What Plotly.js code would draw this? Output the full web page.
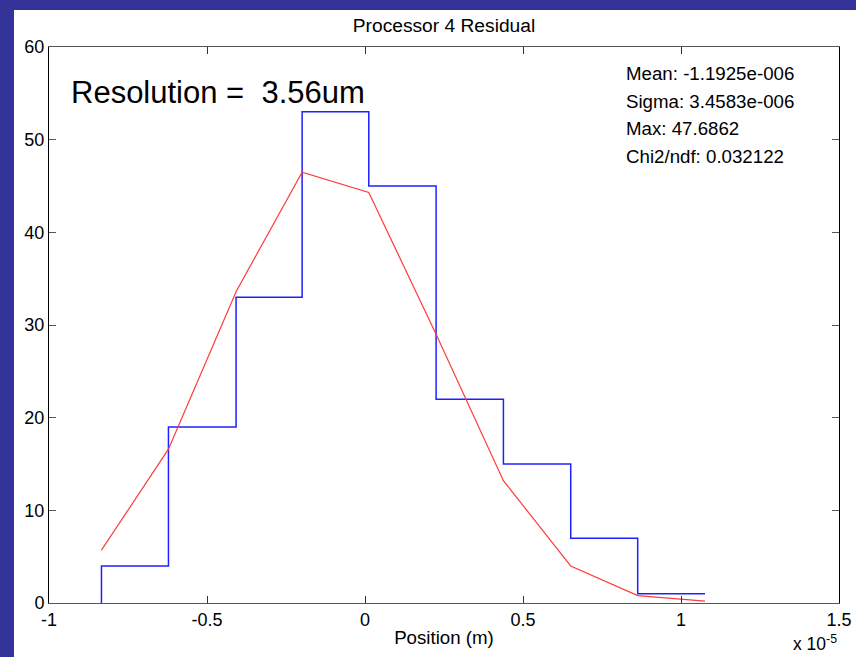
<!DOCTYPE html>
<html>
<head>
<meta charset="utf-8">
<script src="https://cdn.plot.ly/plotly-3.0.1.min.js"></script>
<style>
  html, body { margin: 0; padding: 0; background: #333399; width: 856px; height: 657px; overflow: hidden; }
  #chart { position: absolute; left: 14px; top: 10px; width: 842px; height: 647px; background: #ffffff; }
</style>
</head>
<body>
<div id="chart"></div>
<script>
// Histogram bin edges (units of 1e-5 m)
const binEdges = [-0.834, -0.622, -0.408, -0.199, 0.012, 0.225, 0.438, 0.651, 0.863, 1.076];
// Histogram counts (first value 0 is the baseline before the first bin)
const counts = [0, 4, 19, 33, 53, 45, 22, 15, 7, 1];
// Gaussian fit evaluated at the bin edges
const fitValues = [5.7, 16.6, 33.6, 46.5, 44.3, 29.0, 13.2, 4.0, 0.8, 0.2];

const xTicks = [-1, -0.5, 0, 0.5, 1, 1.5];
const xTickLabels = ['-1', '-0.5', '0', '0.5', '1', '1.5'];
const yTicks = [0, 10, 20, 30, 40, 50, 60];
const yTickLabels = ['0', '10', '20', '30', '40', '50', '60'];

const statLines = ['Mean: -1.1925e-006', 'Sigma: 3.4583e-006', 'Max: 47.6862', 'Chi2/ndf: 0.032122'];

const FONT = 'Liberation Sans, Arial, Helvetica, sans-serif';

const traces = [
  {
    x: binEdges, y: counts, type: 'scatter', mode: 'lines',
    line: { shape: 'vh', color: '#2020ff', width: 1.5 },
    hoverinfo: 'skip', showlegend: false
  },
  {
    x: binEdges, y: fitValues, type: 'scatter', mode: 'lines',
    line: { color: '#ff3b3b', width: 1.2 },
    hoverinfo: 'skip', showlegend: false
  }
];

const statY = [0.9532, 0.9011, 0.8534, 0.8031];
const annotations = statLines.map((t, i) => ({
  text: t, xref: 'paper', yref: 'paper', x: 0.7275, y: statY[i],
  xanchor: 'left', yanchor: 'middle', showarrow: false,
  font: { family: FONT, size: 18.7, color: '#000' }
}));
annotations.push({
  text: 'Resolution =  3.56um', xref: 'paper', yref: 'paper', x: 0.025, y: 0.919,
  xanchor: 'left', yanchor: 'middle', showarrow: false,
  font: { family: FONT, size: 31, color: '#000' }
});
annotations.push({
  text: 'x 10<sup>-5</sup>', xref: 'paper', yref: 'paper', x: 0.9995, y: -0.072,
  xanchor: 'right', yanchor: 'middle', showarrow: false,
  font: { family: FONT, size: 17.5, color: '#000' }
});

const layout = {
  width: 842, height: 647,
  margin: { l: 35, r: 17, t: 37, b: 54 },
  paper_bgcolor: '#ffffff', plot_bgcolor: '#ffffff',
  font: { family: FONT, color: '#000' },
  title: {
    text: 'Processor 4 Residual', font: { family: FONT, size: 19.2, color: '#000' },
    xref: 'paper', x: 0.5, xanchor: 'center', yref: 'container', y: 0.976, yanchor: 'middle'
  },
  xaxis: {
    range: [-1, 1.5], tickvals: xTicks, ticktext: xTickLabels,
    ticks: 'inside', ticklen: 7, tickcolor: '#333', tickwidth: 1,
    showline: true, linecolor: '#555', linewidth: 1, mirror: 'allticks',
    showgrid: false, zeroline: false,
    tickfont: { family: FONT, size: 18, color: '#000' },
    title: { text: 'Position (m)', font: { family: FONT, size: 18.7, color: '#000' }, standoff: 2 }
  },
  yaxis: {
    range: [0, 60], tickvals: yTicks, ticktext: yTickLabels,
    ticks: 'inside', ticklen: 7, tickcolor: '#555', tickwidth: 1,
    showline: true, linecolor: '#000', linewidth: 1, mirror: 'allticks',
    showgrid: false, zeroline: false,
    tickfont: { family: FONT, size: 18, color: '#000' }
  },
  annotations: annotations,
  showlegend: false
};

Plotly.newPlot('chart', traces, layout, { displayModeBar: false, staticPlot: true });
</script>
</body>
</html>
